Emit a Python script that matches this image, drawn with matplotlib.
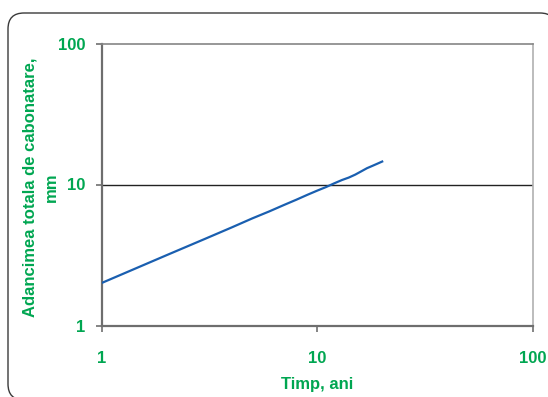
import matplotlib
matplotlib.use('Agg')
from matplotlib import pyplot
from matplotlib.patches import FancyBboxPatch

# carbonation depth vs time
timp = [1, 2, 3, 4, 5, 6, 7, 8, 9, 10, 11, 12, 13, 14, 15, 16, 17, 18, 19, 20]
adancime = [2.0, 3.15, 4.1, 4.95, 5.75, 6.45, 7.15, 7.8, 8.45, 9.05, 9.6, 10.2,
            10.75, 11.2, 11.75, 12.4, 13.05, 13.55, 14.05, 14.55]

x_ticks = [1, 10, 100]
y_ticks = [1, 10, 100]

green = '#00a651'
pyplot.rcParams['font.family'] = ['Liberation Sans', 'DejaVu Sans']

fig = pyplot.figure(figsize=(5.48, 3.97), dpi=100)

# rounded chart border, in inches; bottom/right run just past the picture edge
# (white fill keeps agg from clipping the curved corner oddly)
box = FancyBboxPatch((0.08, -0.03), 5.48, 3.87,
                     boxstyle='round,pad=0,rounding_size=0.16',
                     transform=fig.dpi_scale_trans, facecolor='white',
                     edgecolor='#3a3a3a', linewidth=1.0, clip_on=False, zorder=-1)
fig.patches.append(box)

ax = fig.add_axes([101.5 / 548, 1 - 325.5 / 397, 431.5 / 548, 282 / 397])
ax.set_facecolor('none')
ax.plot(timp, adancime, color='#1a5fb0', linewidth=1.6, zorder=3)

ax.set_xscale('log')
ax.set_yscale('log')
ax.set_xlim(1, 100)
ax.set_ylim(1, 100)
ax.set_xticks(x_ticks)
ax.set_xticklabels([str(v) for v in x_ticks])
ax.set_yticks(y_ticks)
ax.set_yticklabels([str(v) for v in y_ticks])
ax.minorticks_off()

ax.axhline(10, color='#222222', linewidth=1.0, zorder=2)

ax.tick_params(axis='both', colors='#707070', labelcolor=green, labelsize=12, length=4.5, width=1.2)
ax.tick_params(axis='x', pad=14)
ax.tick_params(axis='y', pad=7)
for lab in ax.get_xticklabels() + ax.get_yticklabels():
    lab.set_fontweight('bold')

ax.spines['left'].set_color('#6e6e6e')
ax.spines['bottom'].set_color('#6e6e6e')
ax.spines['left'].set_linewidth(1.6)
ax.spines['bottom'].set_linewidth(1.6)
ax.spines['top'].set_color('#858585')
ax.spines['top'].set_linewidth(1.2)
ax.spines['right'].set_color('#b0b0b0')
ax.spines['right'].set_linewidth(1.2)

ax.set_xlabel('Timp, ani', color=green, fontsize=12, fontweight='bold', va='center')
ax.xaxis.set_label_coords(0.5, -0.208)
ax.set_ylabel('Adancimea totala de cabonatare,\nmm', color=green, fontsize=12,
              fontweight='bold', linespacing=1.6, ha='center', va='center')
ax.yaxis.set_label_coords(-0.141, 0.49)

fig.savefig('out.png', dpi=100)
